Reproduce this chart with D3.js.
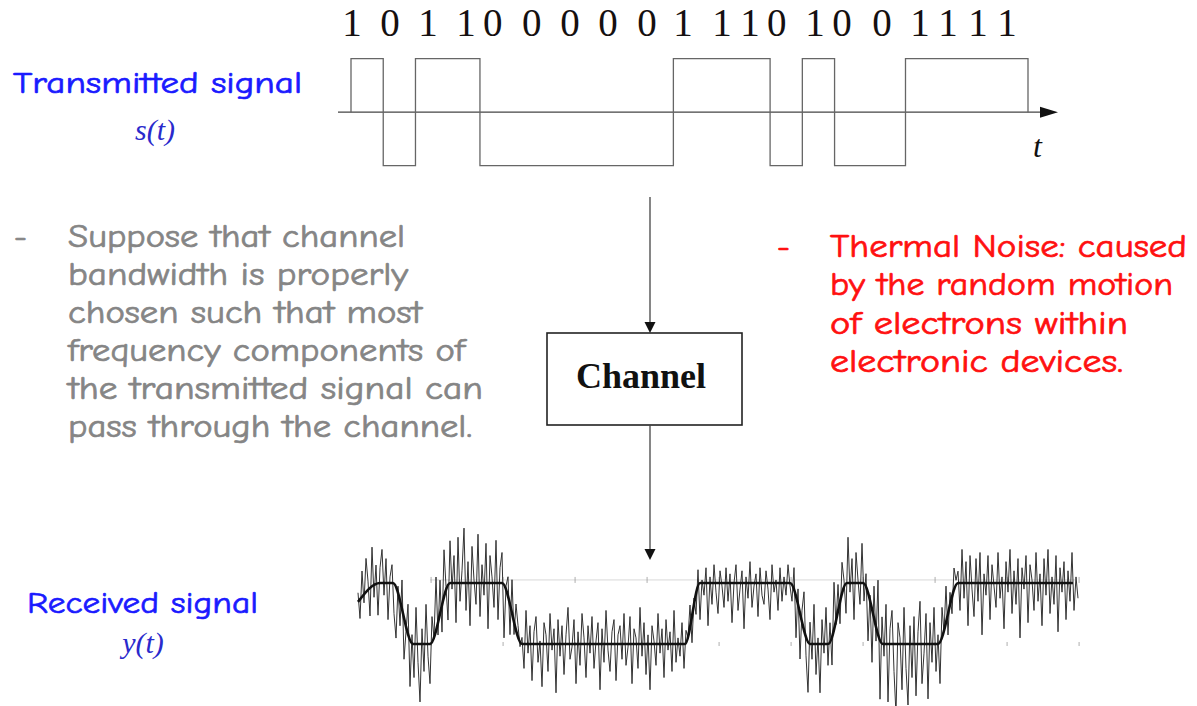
<!DOCTYPE html>
<html>
<head>
<meta charset="utf-8">
<script src="https://cdn.jsdelivr.net/npm/d3@7"></script>
<style>
  html, body { margin: 0; padding: 0; background: #fff; }
  svg { display: block; }
</style>
</head>
<body>
<svg id="chart" width="1197" height="706"></svg>
<script>
// ---------------- DATA ----------------
// Bit labels written above the transmitted waveform (as printed on the slide)
const bitLabels = ["1","0","1","1","0","0","0","0","0","1","1","1","0","1","0","0","1","1","1","1"];
// label centres, in bit-period units along the transmitted time axis
const bitLabelPos = [0.03,1.21,2.39,3.57,4.40,5.61,6.79,7.97,9.18,10.30,11.51,12.38,13.21,14.39,15.23,16.47,17.65,18.52,19.45,20.35];

// Transmitted waveform s(t): segment start times (bit units) and levels (+1 / -1)
const txSegStart = [0, 1, 2, 4, 10, 13, 14, 15, 17.2];
const txSegLevel = [1, -1, 1, -1, 1, -1, 1, -1, 1];
const txEnd = 21;

// Received signal y(t): filtered (noise-free) waveform knots
const rxKnotT     = [-0.25, 0.36, 0.72, 1.28, 1.75, 2.31, 3.75, 4.31, 8.83, 9.25, 11.75, 12.31, 12.81, 13.33, 13.78, 14.33, 15.86, 16.42, 19.61];
const rxKnotLevel = [0.38,  1,    1,    -1,   -1,   1,    1,    -1,   -1,   1,    1,     -1,    -1,    1,     1,     -1,    -1,    1,     1];

// Received noisy samples: deviation from the filtered waveform (tenths of a level)
const rxNoise = [
  3,-6,9,-2,12,4,-8,14,-3,7,-10,5,11,-4,8,-12,2,6,-9,-15,
  4,-7,10,-14,-3,8,-17,2,-11,12,-6,-19,5,-9,13,-4,-13,7,-2,16,
  -5,11,-8,17,3,-10,14,-2,9,-13,15,-6,4,18,-9,7,-14,12,1,-7,
  16,-11,6,-4,13,-15,9,2,-8,14,-12,5,10,-16,3,8,-9,11,-5,7,2,-3,
  2,-8,11,-3,6,-12,4,9,-6,1,-14,7,3,-9,10,-2,5,-16,8,-4,
  6,-10,3,12,-5,-1,8,-13,4,-7,10,2,-11,6,-3,9,-8,1,7,-15,
  5,-6,11,-2,-9,4,8,-12,3,6,-5,10,-7,-1,9,-13,5,2,-8,12,
  -4,7,-10,3,-15,6,1,-7,10,-3,5,-11,8,-2,4,-9,11,-6,2,-4,
  7,-8,3,
  -2,6,-9,3,-5,7,-12,1,-4,5,-14,2,-7,6,-3,-10,4,-1,-8,5,
  -6,3,-13,0,6,-9,-2,4,-15,2,-5,7,-8,-1,3,-11,5,-4,-7,4,
  -2,-12,6,-3,1,-9,5,-6,2,-4,6,-1,
  -4,9,-12,6,-15,3,11,-8,-18,7,-5,13,-10,2,-16,8,-3,12,-7,5,
  -11,14,-2,9,-6,12,4,-9,15,-3,8,-12,10,1,-7,13,-5,6,-14,3,
  -17,10,-6,16,-21,8,-4,13,-19,5,11,-9,-23,7,2,-15,12,-8,-20,6,
  -11,9,-17,4,14,-13,-3,10,-18,7,-6,12,-9,3,-15,8,-2,11,-7,5,
  -4,9,3,
  4,-9,11,-5,7,-14,9,-2,-11,8,-6,10,-17,3,-4,9,-12,6,-1,-8,
  10,-5,2,-15,7,-3,11,-10,4,-7,8,-18,5,-2,9,-13,6,1,-9,10,
  -6,3,-14,8,-4,11,-10,2,-7,9,-16,5,-3,7,-12,4,-6,10,-9,2,
  -5
];
const rxNoiseStartT = -0.25, rxNoiseEndT = 19.75;

// Text blocks
const leftNote  = ["Suppose that channel","bandwidth is properly","chosen such that most","frequency components of","the transmitted signal can","pass through the channel."];
const leftNoteW = [337, 340, 354, 397, 415, 404];
const rightNote  = ["Thermal Noise: caused","by the random motion","of electrons within","electronic devices."];
const rightNoteW = [357, 343, 298, 293];

// ---------------- DRAW ----------------
const svg = d3.select("#chart");
const casual = "'Comic Sans MS','Comic Neue','DejaVu Sans',sans-serif";
const serif = "'Liberation Serif','Times New Roman',serif";

// ----- transmitted signal -----
const xT = d3.scaleLinear().domain([0, 21]).range([351, 1028]);
const yT = d3.scaleLinear().domain([-1, 1]).range([165.7, 58.7]);

// time axis with arrow
svg.append("line").attr("x1", 338).attr("x2", 1045).attr("y1", yT(0)).attr("y2", yT(0))
  .attr("stroke", "#444").attr("stroke-width", 1.3);
svg.append("path").attr("d", `M1040,${yT(0)-5.5} L1058,${yT(0)} L1040,${yT(0)+5.5} Z`).attr("fill", "#111");
svg.append("text").attr("x", 1033).attr("y", 157).attr("font-family", serif).attr("font-style", "italic")
  .attr("font-size", 32).attr("fill", "#111").text("t");

// square wave
const txPts = [[0, 0]];
txSegStart.forEach((s, i) => {
  const e = i < txSegStart.length - 1 ? txSegStart[i + 1] : txEnd;
  txPts.push([s, txSegLevel[i]], [e, txSegLevel[i]]);
});
txPts.push([txEnd, 0]);
svg.append("path").datum(txPts)
  .attr("d", d3.line().x(d => xT(d[0])).y(d => yT(d[1])))
  .attr("fill", "none").attr("stroke", "#666").attr("stroke-width", 1.3);

// bit labels
svg.append("g").selectAll("text").data(bitLabels).join("text")
  .attr("x", (d, i) => xT(bitLabelPos[i])).attr("y", 36)
  .attr("text-anchor", "middle").attr("font-family", serif).attr("font-size", 39)
  .attr("fill", "#151010").text(d => d);

// labels left
function casualText(sel, color) {
  return sel.attr("font-family", casual).attr("fill", color)
    .attr("stroke", color).attr("stroke-width", 0.7).attr("paint-order", "stroke");
}
casualText(svg.append("text"), "#1a1aff").attr("x", 13).attr("y", 93).attr("font-size", 31)
  .attr("textLength", 289).attr("lengthAdjust", "spacingAndGlyphs").text("Transmitted signal");
svg.append("text").attr("x", 155).attr("y", 140).attr("text-anchor", "middle").attr("font-family", serif)
  .attr("font-style", "italic").attr("font-size", 30).attr("fill", "#2a2acc").text("s(t)");

casualText(svg.append("text"), "#1a1aff").attr("x", 27).attr("y", 613).attr("font-size", 31)
  .attr("textLength", 231).attr("lengthAdjust", "spacingAndGlyphs").text("Received signal");
svg.append("text").attr("x", 143).attr("y", 653).attr("text-anchor", "middle").attr("font-family", serif)
  .attr("font-style", "italic").attr("font-size", 30).attr("fill", "#2a2acc").text("y(t)");

// ----- notes -----
casualText(svg.append("text"), "#888").attr("x", 14).attr("y", 247).attr("font-size", 32).text("-");
casualText(svg.append("g").selectAll("text").data(leftNote).join("text"), "#858585")
  .attr("x", 68).attr("y", (d, i) => 247 + i * 38).attr("font-size", 32)
  .attr("textLength", (d, i) => leftNoteW[i]).attr("lengthAdjust", "spacingAndGlyphs").text(d => d);

casualText(svg.append("text"), "#ff1010").attr("x", 777).attr("y", 257).attr("font-size", 32).text("-");
casualText(svg.append("g").selectAll("text").data(rightNote).join("text"), "#ff1010")
  .attr("x", 830).attr("y", (d, i) => 257 + i * 38.3).attr("font-size", 32)
  .attr("textLength", (d, i) => rightNoteW[i]).attr("lengthAdjust", "spacingAndGlyphs").text(d => d);

// ----- channel block -----
svg.append("line").attr("x1", 650).attr("x2", 650).attr("y1", 197).attr("y2", 324).attr("stroke", "#444").attr("stroke-width", 1.3);
svg.append("path").attr("d", "M644.5,322 L655.5,322 L650,333 Z").attr("fill", "#111");
svg.append("rect").attr("x", 547).attr("y", 333).attr("width", 195).attr("height", 92)
  .attr("fill", "#fff").attr("stroke", "#222").attr("stroke-width", 1.6);
svg.append("text").attr("x", 641).attr("y", 388).attr("text-anchor", "middle").attr("font-family", serif)
  .attr("font-weight", "bold").attr("font-size", 36).attr("fill", "#111").text("Channel");
svg.append("line").attr("x1", 650).attr("x2", 650).attr("y1", 425).attr("y2", 551).attr("stroke", "#444").attr("stroke-width", 1.3);
svg.append("path").attr("d", "M644.5,549 L655.5,549 L650,560 Z").attr("fill", "#111");

// ----- received signal -----
const xR = d3.scaleLinear().domain([0, 20]).range([367, 1087]);
const yR = d3.scaleLinear().domain([-1, 1]).range([644, 583]);

// faint reference lines & ticks of the original scope plot
const g = svg.append("g").attr("stroke", "#bbb").attr("stroke-width", 0.8);
g.append("line").attr("x1", 430).attr("x2", 1075).attr("y1", yR(1.1)).attr("y2", yR(1.1)).attr("opacity", 0.7);
const gridT = d3.range(1.78, 20, 2);
g.selectAll(".tk").data(gridT).join("line").attr("class", "tk")
  .attr("x1", d => xR(d)).attr("x2", d => xR(d)).attr("y1", yR(1.1) - 3).attr("y2", yR(1.1) + 3).attr("stroke", "#999");
g.selectAll(".tk2").data(gridT).join("line").attr("class", "tk2")
  .attr("x1", d => xR(d)).attr("x2", d => xR(d)).attr("y1", yR(-1) - 2).attr("y2", yR(-1) + 2).attr("stroke", "#999");

// noisy trace
const baseAt = d3.scaleLinear().domain(rxKnotT).range(rxKnotLevel).clamp(true);
const nN = rxNoise.length;
const tAt = d3.scaleLinear().domain([0, nN - 1]).range([rxNoiseStartT, rxNoiseEndT]);
const noisy = rxNoise.map((v, i) => [tAt(i), baseAt(tAt(i)) + v / 10]);
svg.append("path").datum(noisy)
  .attr("d", d3.line().x(d => xR(d[0])).y(d => yR(d[1])))
  .attr("fill", "none").attr("stroke", "#333").attr("stroke-width", 1.0).attr("stroke-linejoin", "round");

// filtered waveform
const smooth = rxKnotT.map((t, i) => [t, rxKnotLevel[i]]);
svg.append("path").datum(smooth)
  .attr("d", d3.line().x(d => xR(d[0])).y(d => yR(d[1])).curve(d3.curveMonotoneX))
  .attr("fill", "none").attr("stroke", "#111").attr("stroke-width", 2.6);
</script>
</body>
</html>
